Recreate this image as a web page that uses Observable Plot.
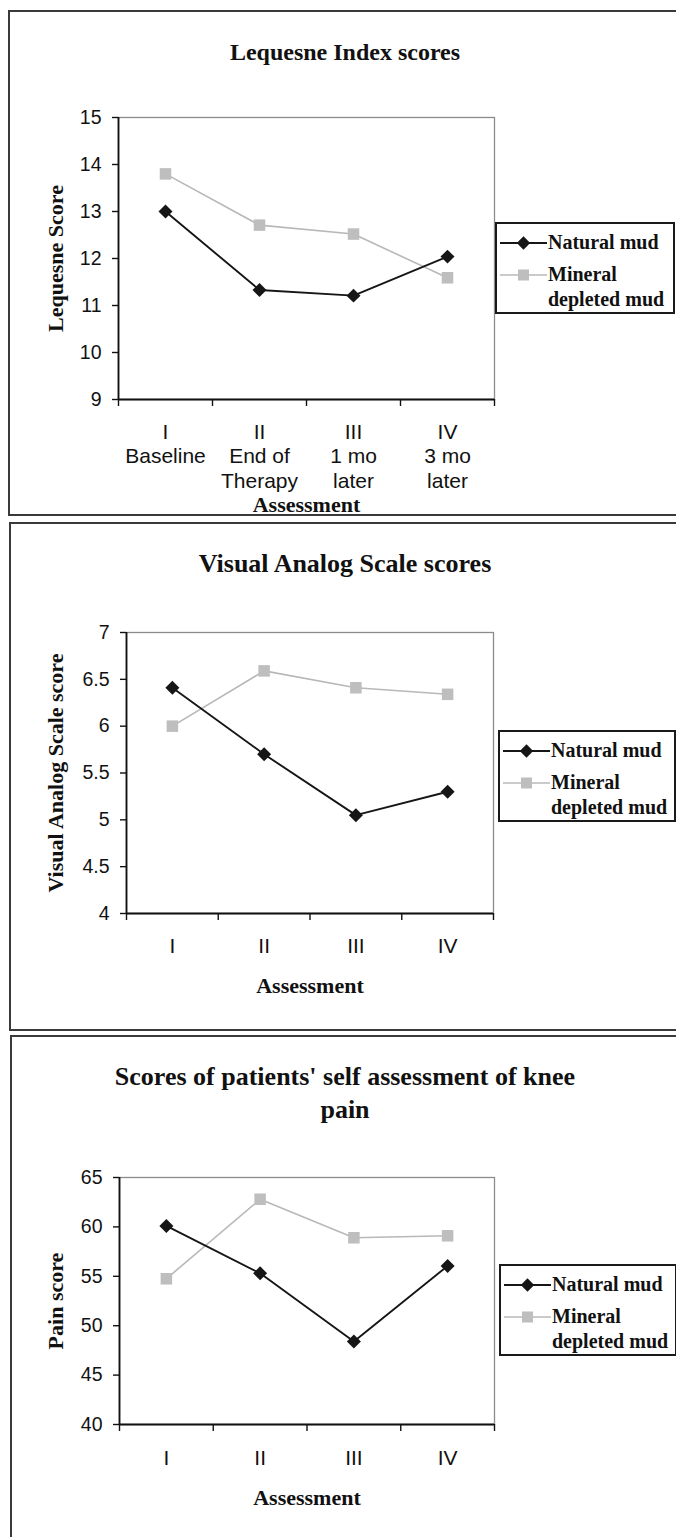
<!DOCTYPE html>
<html>
<head>
<meta charset="utf-8">
<script src="https://cdn.jsdelivr.net/npm/d3@7"></script>
<script src="https://cdn.jsdelivr.net/npm/@observablehq/plot@0.6"></script>
<style>
  html, body { margin: 0; padding: 0; background: #fff; }
  #page { position: relative; width: 676px; height: 1537px; overflow: hidden; background: #fff; }
  .panel { position: absolute; border: 2px solid #3a3a3a; box-sizing: border-box; }
  .title { position: absolute; left: 9px; width: 672px; text-align: center; font-family: "Liberation Serif", "Times New Roman", serif; font-weight: bold; color: #111; white-space: pre; }
  .legend { position: absolute; border: 2px solid #1a1a1a; box-sizing: border-box; background: #fff; }
  .legend .lt { position: absolute; font-family: "Liberation Serif", "Times New Roman", serif; font-weight: bold; font-size: 20px; line-height: 20px; color: #111; white-space: pre; }
  .legend svg { position: absolute; overflow: visible; }
  .chart { position: absolute; left: 0; }
  .chart svg { overflow: visible; }
  g[aria-label="y-axis label"] text, g[aria-label="x-axis label"] text {
    font-family: "Liberation Serif", "Times New Roman", serif; font-weight: bold; font-size: 22px; fill: #111;
  }
</style>
</head>
<body>
<div id="page"></div>
<script>
// ---------------- data ----------------
const categories = ["I", "II", "III", "IV"];
const lequesneSubLabels = ["Baseline", "End of\nTherapy", "1 mo\nlater", "3 mo\nlater"];
const legendLabels = ["Natural mud", "Mineral\ndepleted mud"];

const lequesneNatural = [13.0, 11.33, 11.21, 12.04];
const lequesneMineral = [13.8, 12.71, 12.52, 11.59];
const lequesneTicks = [9, 10, 11, 12, 13, 14, 15];

const vasNatural = [6.41, 5.70, 5.05, 5.30];
const vasMineral = [6.00, 6.59, 6.41, 6.34];
const vasTicks = [4, 4.5, 5, 5.5, 6, 6.5, 7];

const painNatural = [60.1, 55.3, 48.4, 56.05];
const painMineral = [54.75, 62.8, 58.9, 59.1];
const painTicks = [40, 45, 50, 55, 60, 65];

const titles = ["Lequesne Index scores", "Visual Analog Scale scores", "Scores of patients' self assessment of knee\npain"];
const yLabels = ["Lequesne Score", "Visual Analog Scale score", "Pain score"];
const xLabel = "Assessment";

// ---------------- helpers ----------------
const page = document.getElementById("page");
const NATURAL = "#161616", MINERAL_LINE = "#b8b8b8", MINERAL_FILL = "#bebebe";

function rows(values) {
  return values.map((v, i) => ({pos: i + 1, cat: categories[i], value: v}));
}

function addPanel(top, left, height) {
  const d = document.createElement("div");
  d.className = "panel";
  d.style.top = top + "px"; d.style.left = left + "px";
  d.style.width = (690 - left) + "px"; d.style.height = height + "px";
  page.appendChild(d);
}

function addTitle(text, baseline, size, lineH) {
  const d = document.createElement("div");
  d.className = "title";
  d.style.fontSize = size + "px";
  d.style.lineHeight = lineH + "px";
  const off = (lineH - 1.107 * size) / 2 + 0.891 * size;
  d.style.top = (baseline - off) + "px";
  d.textContent = text;
  page.appendChild(d);
}

function addLegend(left, top, width, height) {
  const L = document.createElement("div");
  L.className = "legend";
  L.style.left = left + "px"; L.style.top = top + "px";
  L.style.width = width + "px"; L.style.height = height + "px";
  const symY = [18.5, 51];
  const baselines = [[24.5], [57, 81.5]];
  legendLabels.forEach((lab, k) => {
    const s = document.createElementNS("http://www.w3.org/2000/svg", "svg");
    s.setAttribute("width", 50); s.setAttribute("height", 16);
    s.style.left = "3px"; s.style.top = (symY[k] - 8) + "px";
    if (k === 0) {
      s.innerHTML = `<line x1="0" x2="47" y1="8" y2="8" stroke="${NATURAL}" stroke-width="1.8"/>
        <path d="M23.5,1.3 L30.2,8 L23.5,14.7 L16.8,8 Z" fill="${NATURAL}"/>`;
    } else {
      s.innerHTML = `<line x1="0" x2="47" y1="8" y2="8" stroke="${MINERAL_LINE}" stroke-width="1.6"/>
        <rect x="18" y="2.5" width="11" height="11" fill="${MINERAL_FILL}"/>`;
    }
    L.appendChild(s);
    lab.split("\n").forEach((line, j) => {
      const t = document.createElement("div");
      t.className = "lt";
      t.style.left = "51px";
      t.style.top = (baselines[k][j] - 16.75) + "px";
      t.textContent = line;
      L.appendChild(t);
    });
  });
  page.appendChild(L);
}

function addChart(cfg) {
  const nat = rows(cfg.natural), min = rows(cfg.mineral);
  const boundaries = categories.map((c, i) => i + 0.5).concat([categories.length + 0.5]);
  const yDom = [cfg.ticks[0], cfg.ticks[cfg.ticks.length - 1]];
  const mt = cfg.frameTop - cfg.svgTop;
  const h = cfg.svgBottom - cfg.svgTop;
  const mb = cfg.svgBottom - cfg.frameBottom;
  const svg = Plot.plot({
    width: 676,
    height: h,
    marginLeft: cfg.frameLeft,
    marginRight: 676 - cfg.frameRight,
    marginTop: mt,
    marginBottom: mb,
    x: {domain: [0.5, categories.length + 0.5]},
    y: {domain: yDom},
    style: {background: "transparent", fontFamily: '"Liberation Sans", Arial, sans-serif', fontSize: "19px", color: "#111"},
    marks: [
      Plot.frame({stroke: "#8c8c8c", strokeWidth: 1.3}),
      Plot.axisY({ticks: cfg.ticks, tickSize: 6, tickPadding: 11, fontSize: 19.5, strokeWidth: 1.4,
        tickFormat: (d) => String(d),
        label: cfg.yLabel, labelAnchor: "center", labelOffset: cfg.yLabelOffset, labelArrow: "none"}),
      Plot.axisX({ticks: boundaries, tickSize: 7, strokeWidth: 1.4, tickFormat: () => "", label: null}),
      Plot.axisX({ticks: categories.map((c, i) => i + 1), tickSize: 0, tickPadding: cfg.xPad, fontSize: 21, lineHeight: 1.17,
        tickFormat: (i) => cfg.sub ? categories[i - 1] + "\n" + cfg.sub[i - 1] : categories[i - 1],
        label: xLabel, labelAnchor: "center", labelOffset: cfg.xLabelOffset, labelArrow: "none"}),
      Plot.ruleX([0.5], {stroke: "#111", strokeWidth: 1.8}),
      Plot.ruleY([yDom[0]], {stroke: "#111", strokeWidth: 1.8}),
      Plot.line(min, {x: "pos", y: "value", stroke: MINERAL_LINE, strokeWidth: 1.6}),
      Plot.dot(min, {x: "pos", y: "value", symbol: "square", r: 6.5, fill: MINERAL_FILL, stroke: "none"}),
      Plot.line(nat, {x: "pos", y: "value", stroke: NATURAL, strokeWidth: 1.9}),
      Plot.dot(nat, {x: "pos", y: "value", symbol: "diamond2", r: 6.3, fill: NATURAL, stroke: "none"})
    ]
  });
  const wrap = document.createElement("div");
  wrap.className = "chart";
  wrap.style.top = cfg.svgTop + "px";
  wrap.appendChild(svg);
  page.appendChild(wrap);
}

// ---------------- panels ----------------
addPanel(10, 8, 506);
addPanel(522, 9, 509);
addPanel(1035, 10, 560);

addTitle(titles[0], 60, 24, 24);
addTitle(titles[1], 572.5, 26, 26);
addTitle(titles[2], 1085, 26, 33);

addChart({natural: lequesneNatural, mineral: lequesneMineral, ticks: lequesneTicks, sub: lequesneSubLabels,
  yLabel: yLabels[0], svgTop: 100, svgBottom: 520, frameTop: 117, frameBottom: 399, frameLeft: 118, frameRight: 494,
  yLabelOffset: 71, xLabelOffset: 112, xPad: 21.6});
addChart({natural: vasNatural, mineral: vasMineral, ticks: vasTicks, sub: null,
  yLabel: yLabels[1], svgTop: 615, svgBottom: 1010, frameTop: 632, frameBottom: 913, frameLeft: 126, frameRight: 493,
  yLabelOffset: 79, xLabelOffset: 79, xPad: 21.6});
addChart({natural: painNatural, mineral: painMineral, ticks: painTicks, sub: null,
  yLabel: yLabels[2], svgTop: 1160, svgBottom: 1530, frameTop: 1177, frameBottom: 1424, frameLeft: 119, frameRight: 494,
  yLabelOffset: 72, xLabelOffset: 80, xPad: 22.6});

addLegend(495, 222, 180, 92);
addLegend(498, 730, 178, 92);
addLegend(499, 1264, 178, 92);
</script>
</body>
</html>
